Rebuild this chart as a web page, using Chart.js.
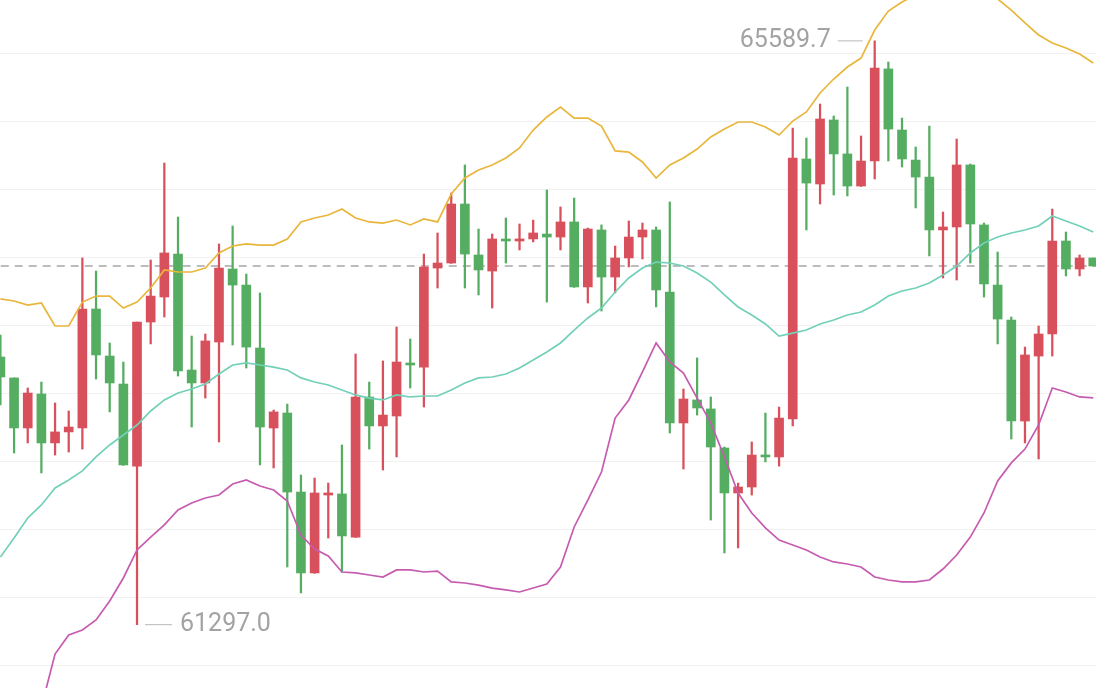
<!DOCTYPE html>
<html>
<head>
<meta charset="utf-8">
<script src="https://cdn.jsdelivr.net/npm/chart.js@4.4.1/dist/chart.umd.min.js"></script>
<style>
html,body{margin:0;padding:0;background:#fff;overflow:hidden;}
#wrap{width:1096px;height:688px;}
</style>
</head>
<body>
<div id="wrap"><canvas id="chart" width="1096" height="688"></canvas></div>
<script>
// candles, one per index 0..80
const open=[63265,63111,62743,62993,62633,62714,62743,63618,63272,63066,62463,63522,63706,64022,63169,63074,63375,63912,63794,63331,62743,62853,62272,61677,62250,62258,61941,62971,62758,62831,63221,63191,63919,63956,64390,64015,63897,64125,64118,64133,64169,64147,64258,63780,64199,63853,63993,64147,64199,63743,62780,62949,62883,62596,62265,62309,62544,62530,62809,64721,64537,65008,64758,64522,64706,65383,64934,64713,64588,64199,64221,64677,64236,63794,63537,62794,63272,63434,64118,63912,63993];
const high=[63427,63111,63037,63081,62927,62868,63993,63897,63368,63228,63522,63978,64691,64294,63419,63434,64096,64228,63875,63736,62875,62919,62397,62375,62338,62618,63287,63081,63236,63486,63397,64022,64177,64471,64677,64206,64169,64287,64243,64272,64493,64368,64434,64213,64236,64081,64265,64250,64221,64405,63030,63258,62971,62603,62338,62640,62853,62897,64949,64875,65125,65037,65250,64890,65589.7,65434,65022,64809,64963,64331,64868,64684,64250,64037,63559,63338,63493,64353,64184,64015,63993];
const low=[62912,62559,62633,62412,62544,62566,62588,63103,62861,62468,61297.0,63361,63559,63125,62750,62963,62640,63353,63184,62471,62449,61721,61530,61674,61934,61684,61938,62588,62434,62530,63037,62897,63772,63953,63772,63721,63625,63956,64052,64111,63669,64052,63777,63662,63603,63736,63927,63986,63633,62706,62441,62838,62066,61824,61861,62250,62493,62463,62758,64199,64390,64456,64449,64519,64574,64706,64662,64361,64008,63846,63831,63956,63706,63361,62662,62633,62515,63272,63861,63861,63934];
const close=[63118,62743,63000,62633,62714,62750,63618,63280,63074,62471,63522,63713,64030,63162,63074,63383,63919,63794,63338,62750,62861,62272,61677,62265,62265,61949,62971,62758,62838,63228,63206,63927,63956,64390,64022,63905,64133,64118,64133,64177,64147,64258,63780,64206,63853,63993,64147,64199,63758,62780,62956,62890,62603,62265,62309,62544,62530,62816,64728,64544,65015,64758,64522,64706,65390,64941,64721,64588,64199,64221,64677,64243,63802,63544,62794,63280,63434,64118,63912,63993,63934];

// bollinger bands
const upper=[63692,63677,63647,63662,63493,63493,63669,63713,63713,63625,63669,63772,63905,63890,63890,63919,64030,64081,64096,64088,64088,64133,64258,64287,64309,64353,64287,64258,64250,64272,64236,64280,64258,64463,64581,64640,64677,64728,64802,64934,65030,65103,65022,65022,64963,64780,64772,64699,64581,64677,64728,64794,64883,64941,64993,64993,64956,64897,65000,65067,65206,65309,65397,65463,65669,65809,65875,65927,65964,65978,65978,65964,65934,65897,65816,65721,65633,65574,65537,65493,65427];
const middle=[61794,61934,62081,62177,62302,62361,62427,62530,62618,62691,62765,62868,62949,63000,63030,63066,63140,63206,63221,63206,63191,63169,63111,63081,63059,63022,62986,62963,62949,62986,62971,62978,62978,63022,63074,63111,63118,63140,63184,63243,63302,63368,63463,63552,63625,63743,63846,63919,63963,63956,63934,63883,63816,63721,63633,63574,63508,63419,63441,63463,63508,63537,63574,63596,63647,63713,63750,63772,63809,63868,63934,64030,64103,64147,64177,64199,64228,64302,64265,64228,64184];
const lower=[59897,60191,60515,60691,61081,61221,61258,61331,61471,61640,61846,61941,62030,62140,62191,62228,62250,62331,62361,62316,62287,62206,61956,61853,61802,61684,61677,61662,61647,61699,61699,61684,61691,61611,61603,61588,61566,61552,61537,61566,61596,61721,62015,62213,62419,62816,62949,63155,63368,63228,63147,62963,62780,62530,62265,62118,62008,61919,61883,61846,61794,61758,61743,61721,61647,61625,61611,61611,61625,61706,61809,61941,62118,62353,62486,62588,62765,63037,63008,62971,62964];

const gridValues=[61000,61500,62000,62500,63000,63500,64000,64500,65000,65500];
const lastPrice=close[close.length-1];

const UP="#d8505b",DOWN="#55ad62";
const col=open.map((o,i)=>close[i]>=o?UP:DOWN);
const pts=a=>a.map((v,i)=>({x:i,y:v}));

const hiIdx=high.indexOf(Math.max(...high));
const loIdx=low.indexOf(Math.min(...low));

const extremes={
id:"extremes",
afterDatasetsDraw(chart){
let c=chart.ctx,xs=chart.scales.x,ys=chart.scales.y;
c.save();
c.font="25px Roboto, 'Noto Sans', sans-serif";
c.fillStyle="#a3a3a3";c.strokeStyle="#c4c4c4";c.lineWidth=1.2;
c.textBaseline="middle";
// high label sits left of its candle
let hx=xs.getPixelForValue(hiIdx),hy=ys.getPixelForValue(high[hiIdx]);
c.beginPath();c.moveTo(hx-37,hy);c.lineTo(hx-12,hy);c.stroke();
c.textAlign="right";c.fillText(high[hiIdx].toFixed(1),hx-44,hy);
// low label right of its candle
let lx=xs.getPixelForValue(loIdx),ly=ys.getPixelForValue(low[loIdx]);
c.beginPath();c.moveTo(lx+8,ly);c.lineTo(lx+35,ly);c.stroke();
c.textAlign="left";c.fillText(low[loIdx].toFixed(1),lx+43,ly);
c.restore();
}
};

const line=(data,color,order)=>({type:"line",data:pts(data),borderColor:color,borderWidth:1.7,pointRadius:0,tension:0,order});

new Chart(document.getElementById("chart"),{
type:"bar",
data:{datasets:[
line(upper,"#e9b63c",0),
line(middle,"#72d0b9",0),
line(lower,"#c65bb0",0),
{type:"bar",data:open.map((o,i)=>({x:i,y:[o,close[i]]})),backgroundColor:col,barThickness:9,minBarLength:2,grouped:false,order:1},
{type:"bar",data:low.map((l,i)=>({x:i,y:[l,high[i]]})),backgroundColor:col,barThickness:1.6,grouped:false,order:2},
{type:"line",data:[{x:-1,y:lastPrice},{x:82,y:lastPrice}],borderColor:"#a6a6a6",borderWidth:1.6,borderDash:[8,6],pointRadius:0,order:3}
]},
options:{
responsive:false,animation:false,
layout:{padding:0},
plugins:{legend:{display:false},tooltip:{enabled:false}},
scales:{
x:{type:"linear",min:-0.03,max:80.2,offset:false,display:false},
y:{min:60831,max:65890,
afterBuildTicks:ax=>{ax.ticks=gridValues.map(v=>({value:v}));},
ticks:{display:false},border:{display:false},
grid:{color:"#f1f1f1",lineWidth:1,drawTicks:false}}
}
},
plugins:[extremes]
});
</script>
</body>
</html>
